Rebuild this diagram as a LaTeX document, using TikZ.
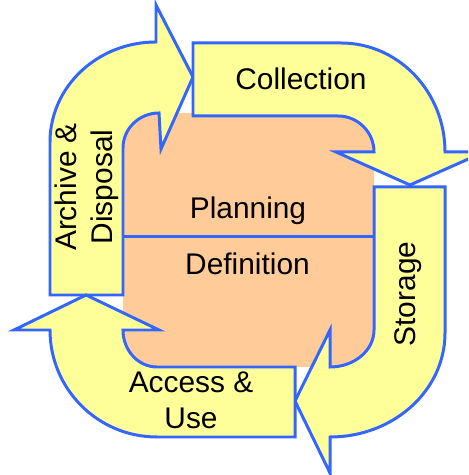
\documentclass[tikz,border=0pt]{standalone}
\usepackage{fontspec}
\setmainfont{Liberation Sans}
\usepackage{tikz}
\definecolor{cycleYellow}{RGB}{255,255,153}
\definecolor{cycleBlue}{RGB}{51,102,255}
\definecolor{cycleOrange}{RGB}{255,204,153}

\begin{document}
\begin{tikzpicture}[x=0.02cm, y=0.02cm, line width=1.7pt,
		cyclearrow/.style={fill=cycleYellow, draw=cycleBlue}]
		\useasboundingbox (0,0) rectangle (468,475);
		\clip (0,0) rectangle (468,475);
		
		% Centre field
		\fill [cycleOrange, rounded corners=0.72cm] (123,108) rectangle (374,362);
		\coordinate (divWest) at (123,238);
		\coordinate (divEast) at (374,238);
		\draw [cycleBlue] (divWest) -- (divEast);
		
		% Arrows
		\draw [cyclearrow] (50,180) -- (50,333) arc[start angle=180, end angle=90, x radius=106, y radius=100]
			-- (156,470) -- (193,398) -- (161,326) -- (159,362)
			arc[start angle=90, end angle=180, x radius=36, y radius=35] -- (123,180) -- cycle;
		\draw [cyclearrow] (193,432) -- (341,432) arc[start angle=90, end angle=0, x radius=104, y radius=109]
			-- (484,323) -- (410,290) -- (336,323) -- (374,323)
			arc[start angle=0, end angle=90, radius=36] -- (193,359) -- cycle;
		\draw [cyclearrow] (374,288) -- (445,288) -- (445,142) arc[start angle=0, end angle=-90, x radius=115, y radius=104]
			-- (330,2) -- (295,74) -- (330,145) -- (330,108)
			arc[start angle=-90, end angle=0, x radius=44, y radius=37] -- cycle;
		\draw [cyclearrow] (295,108) -- (295,38) -- (157,38) arc[start angle=270, end angle=180, radius=107]
			-- (14,145) -- (86,180) -- (159,145) -- (123,145)
			arc[start angle=180, end angle=270, x radius=34, y radius=37] -- cycle;
		
		% Labels
		\begin{scope}[every node/.style={font=\fontsize{17}{20.5}\selectfont, align=center}]
			\node (collection) at (301,396.5) {Collection};
			\node (storage) at (408,181) [rotate=90] {Storage};
			\node (access) at (191,75) {Access \&\\Use};
			\node (archive) at (87,288) [rotate=90] {Archive \&\\Disposal};
			\node (planning) at (248,264.5) {Planning};
			\node (definition) at (247.5,211) {Definition};
		\end{scope}
		
	\end{tikzpicture}
\end{document}
